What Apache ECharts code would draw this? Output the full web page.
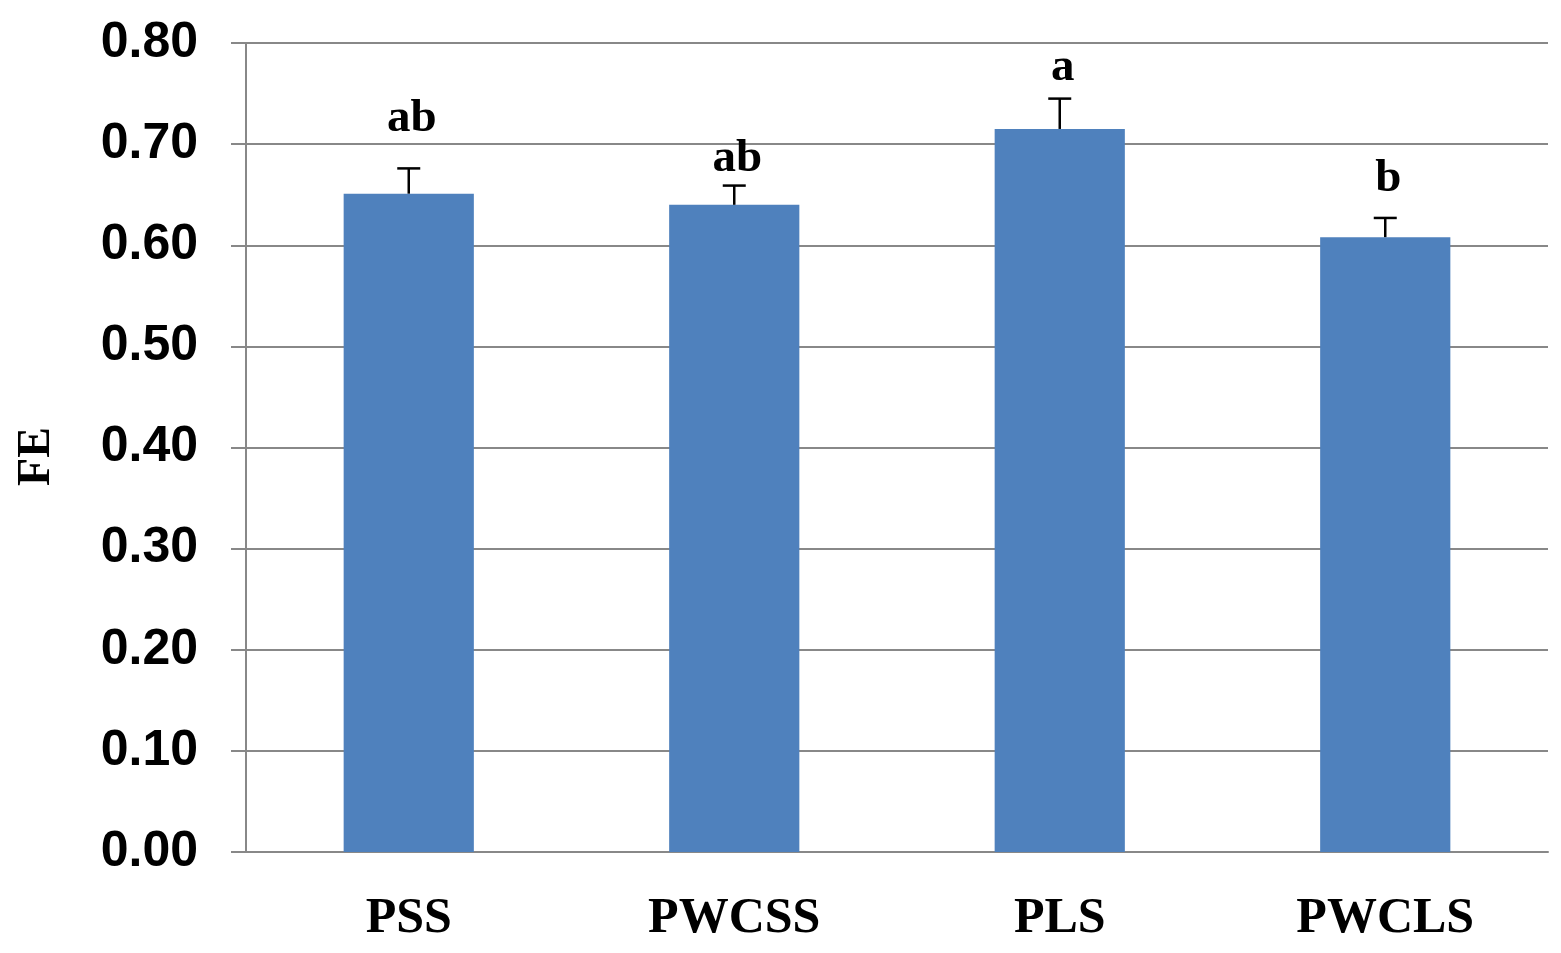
<!DOCTYPE html>
<html>
<head>
<meta charset="utf-8">
<script src="https://cdn.jsdelivr.net/npm/echarts@6/dist/echarts.min.js"></script>
<style>
html,body{margin:0;padding:0;background:#fff;}
#chart{width:1561px;height:953px;}
</style>
</head>
<body>
<div id="chart"></div>
<script>
const categories = ['PSS', 'PWCSS', 'PLS', 'PWCLS'];
const feMeans = [0.651, 0.640, 0.715, 0.608];
const feErrors = [0.025, 0.019, 0.030, 0.019];
const letters = ['ab', 'ab', 'a', 'b'];
const letterAt = [0.702, 0.662, 0.752, 0.642];
const yTicks = [0, 0.1, 0.2, 0.3, 0.4, 0.5, 0.6, 0.7, 0.8];

const chart = echarts.init(document.getElementById('chart'));
const gray = '#888888';

const errorData = categories.map((c, i) => [i, feMeans[i], feMeans[i] + feErrors[i]]);
const letterData = categories.map((c, i) => [i, letterAt[i], letters[i]]);

chart.setOption({
  animation: false,
  grid: { left: 246, right: 13, top: 43, bottom: 101 },
  xAxis: {
    type: 'category',
    data: categories,
    axisLine: { lineStyle: { color: gray, width: 2 } },
    axisTick: { show: false },
    axisLabel: {
      margin: 42,
      fontFamily: '"Liberation Serif", "Times New Roman", serif',
      fontWeight: 'bold',
      fontSize: 50,
      color: '#000'
    }
  },
  yAxis: {
    type: 'value',
    min: yTicks[0],
    max: yTicks[yTicks.length - 1],
    interval: 0.1,
    name: 'FE',
    nameLocation: 'middle',
    nameRotate: 90,
    nameGap: 186,
    nameTextStyle: {
      fontFamily: '"Liberation Serif", "Times New Roman", serif',
      fontWeight: 'bold',
      fontSize: 46,
      color: '#000',
      padding: [0, 18, 0, 0]
    },
    axisLine: { show: true, lineStyle: { color: gray, width: 2 } },
    axisTick: { show: true, length: 15, lineStyle: { color: gray, width: 2 } },
    splitLine: { lineStyle: { color: gray, width: 2 } },
    axisLabel: {
      margin: 48,
      formatter: v => v.toFixed(2),
      fontFamily: '"Liberation Sans", Arial, sans-serif',
      fontWeight: 'bold',
      fontSize: 50,
      color: '#000'
    }
  },
  series: [
    {
      type: 'bar',
      data: feMeans,
      barWidth: '40%',
      itemStyle: { color: '#4F81BD' },
      z: 2
    },
    {
      type: 'custom',
      data: errorData,
      z: 3,
      renderItem: function (params, api) {
        const base = api.coord([api.value(0), api.value(1)]);
        const top = api.coord([api.value(0), api.value(2)]);
        const half = 11.5;
        const style = { stroke: '#000', lineWidth: 2.5 };
        return {
          type: 'group',
          children: [
            { type: 'line', shape: { x1: base[0], y1: base[1], x2: top[0], y2: top[1] }, style: style },
            { type: 'line', shape: { x1: top[0] - half, y1: top[1], x2: top[0] + half, y2: top[1] }, style: style }
          ]
        };
      }
    },
    {
      type: 'custom',
      data: letterData,
      z: 4,
      renderItem: function (params, api) {
        const p = api.coord([api.value(0), api.value(1)]);
        return {
          type: 'text',
          x: p[0] + 3,
          y: p[1],
          style: {
            text: letters[params.dataIndex],
            textAlign: 'center',
            textVerticalAlign: 'bottom',
            font: 'bold 47px "Liberation Serif", "Times New Roman", serif',
            fill: '#000'
          }
        };
      }
    }
  ]
});
</script>
</body>
</html>
